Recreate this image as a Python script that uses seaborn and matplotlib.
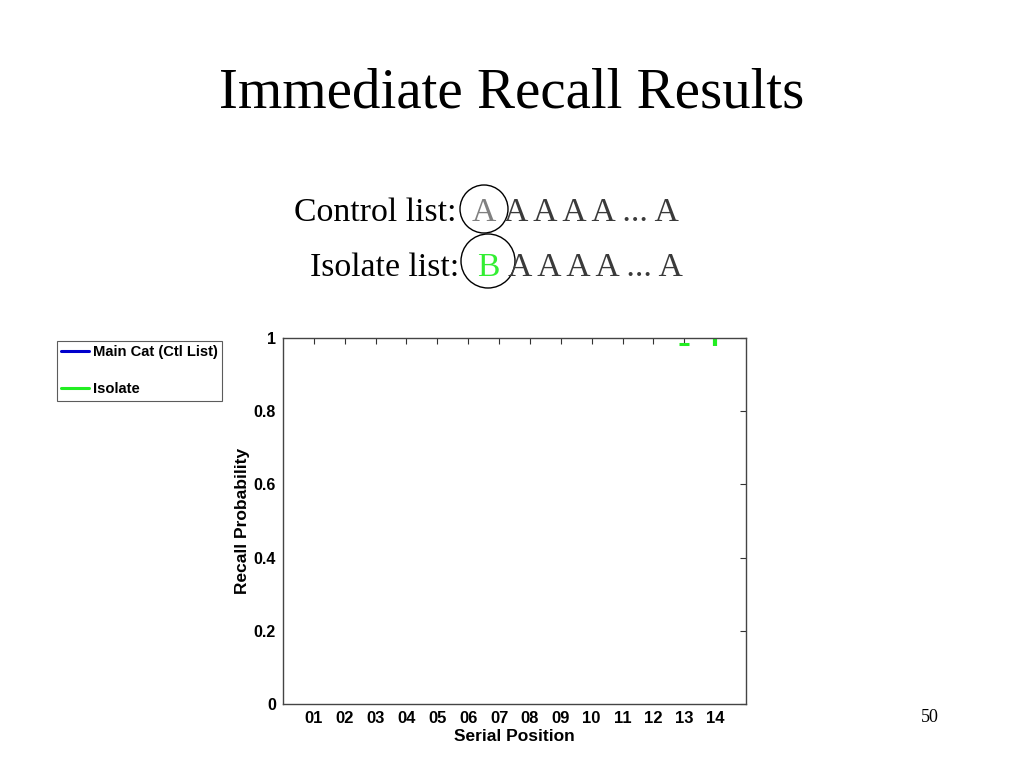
# Immediate recall results slide: serial position plot (control vs isolate)
import glob
import numpy as np
import matplotlib
matplotlib.use("Agg")
import matplotlib.pyplot as plt
from matplotlib import font_manager
from matplotlib.lines import Line2D
from matplotlib.patches import Ellipse
import seaborn as sns

# --- DATA ---
positions = np.arange(1, 15)
tick_labels = [f"{p:02d}" for p in positions]
y_ticks = [0, 0.2, 0.4, 0.6, 0.8, 1.0]
y_tick_labels = ["0", "0.2", "0.4", "0.6", "0.8", "1"]

series_names = ["Main Cat (Ctl List)", "Isolate"]
series_colors = ["#0000cc", "#22ee22"]

# isolate error bars, only the parts that fall inside the axes are visible
iso_cap_pos = [13]
iso_cap_val = [0.984]
iso_bar_pos = [14]
iso_bar_low = [0.979]
iso_bar_high = [1.0]

# --- STYLE ---
sns.set_style("white")
plt.rcParams["font.family"] = ["Liberation Sans", "DejaVu Sans"]
for k in ["text.color", "axes.labelcolor", "xtick.color", "ytick.color"]:
    plt.rcParams[k] = "black"

# make sure the regular-width bold Arial clone is used (not the Narrow one)
bold_files = [f for f in glob.glob("/usr/share/fonts/**/LiberationSans-Bold.ttf", recursive=True)]
if bold_files:
    def bold(size):
        return font_manager.FontProperties(fname=bold_files[0], size=size)
else:
    def bold(size):
        return font_manager.FontProperties(family="DejaVu Sans", weight="bold", size=size)

fig = plt.figure(figsize=(10.24, 7.68), dpi=100)
ax = fig.add_axes([283 / 1024, 64 / 768, 463 / 1024, 366 / 768])

# green error bar fragments
ax.hlines(iso_cap_val, np.array(iso_cap_pos) - 0.16, np.array(iso_cap_pos) + 0.16,
          color=series_colors[1], linewidth=2.2)
ax.vlines(iso_bar_pos, iso_bar_low, iso_bar_high, color=series_colors[1], linewidth=3)

ax.set_xlim(0, 15)
ax.set_ylim(0, 1)
ax.set_xticks(positions)
ax.set_xticklabels(tick_labels, fontproperties=bold(12))
ax.set_yticks(y_ticks)
ax.set_yticklabels(y_tick_labels, fontproperties=bold(11.5))
ax.tick_params(direction="in", length=4, width=0.8, color="#333333",
               top=True, right=True, pad=5)
for s in ax.spines.values():
    s.set_color("#444444")
    s.set_linewidth(1.0)
ax.set_xlabel("Serial Position", fontproperties=bold(12.5), labelpad=2.5)
ax.set_ylabel("Recall Probability", fontproperties=bold(12.5), labelpad=3)

# legend outside the axes, top left
handles = [Line2D([0], [0], color=c, linewidth=2.2) for c in series_colors]
leg = fig.legend(handles, series_names, loc="upper left",
                 bbox_to_anchor=(57 / 1024, 1 - 341 / 768),
                 prop=bold(10.6),
                 frameon=True, fancybox=False, edgecolor="#333333",
                 handlelength=1.9, handletextpad=0.25, labelspacing=1.55,
                 borderpad=0.3, borderaxespad=0)
leg.get_frame().set_linewidth(0.8)

# --- SLIDE TEXT ---
serif = ["Liberation Serif", "DejaVu Serif"]
fig.text(0.5, 1 - 93 / 768, "Immediate Recall Results", ha="center", va="center",
         fontsize=41, family=serif)

fig.text(456 / 1024, 1 - 221 / 768, "Control list:", ha="right", va="baseline",
         fontsize=24.3, family=serif, color="black")
fig.text(484 / 1024, 1 - 221 / 768, "A", ha="center", va="baseline",
         fontsize=24.3, family=serif, color="#808080")
fig.text(504 / 1024, 1 - 221 / 768, "A A A A ... A", ha="left", va="baseline",
         fontsize=24.3, family=serif, color="#3a3a3a")

fig.text(459 / 1024, 1 - 276 / 768, "Isolate list:", ha="right", va="baseline",
         fontsize=24.3, family=serif, color="black")
fig.text(488 / 1024, 1 - 276 / 768, "B", ha="center", va="baseline",
         fontsize=24.3, family=serif, color="#33ee33")
fig.text(508 / 1024, 1 - 276 / 768, "A A A A ... A", ha="left", va="baseline",
         fontsize=24.3, family=serif, color="#3a3a3a")

# circles around the first item of each list (pixel-based in figure coords)
for cx, cy, r in [(484, 209, 24), (488, 261, 27)]:
    fig.add_artist(Ellipse((cx / 1024, 1 - cy / 768), 2 * r / 1024, 2 * r / 768,
                           transform=fig.transFigure, fill=False,
                           edgecolor="black", linewidth=1.0))

fig.text(930 / 1024, 1 - 718 / 768, "50", ha="center", va="center",
         fontsize=13, family=serif)

fig.savefig("out.png", dpi=100)
